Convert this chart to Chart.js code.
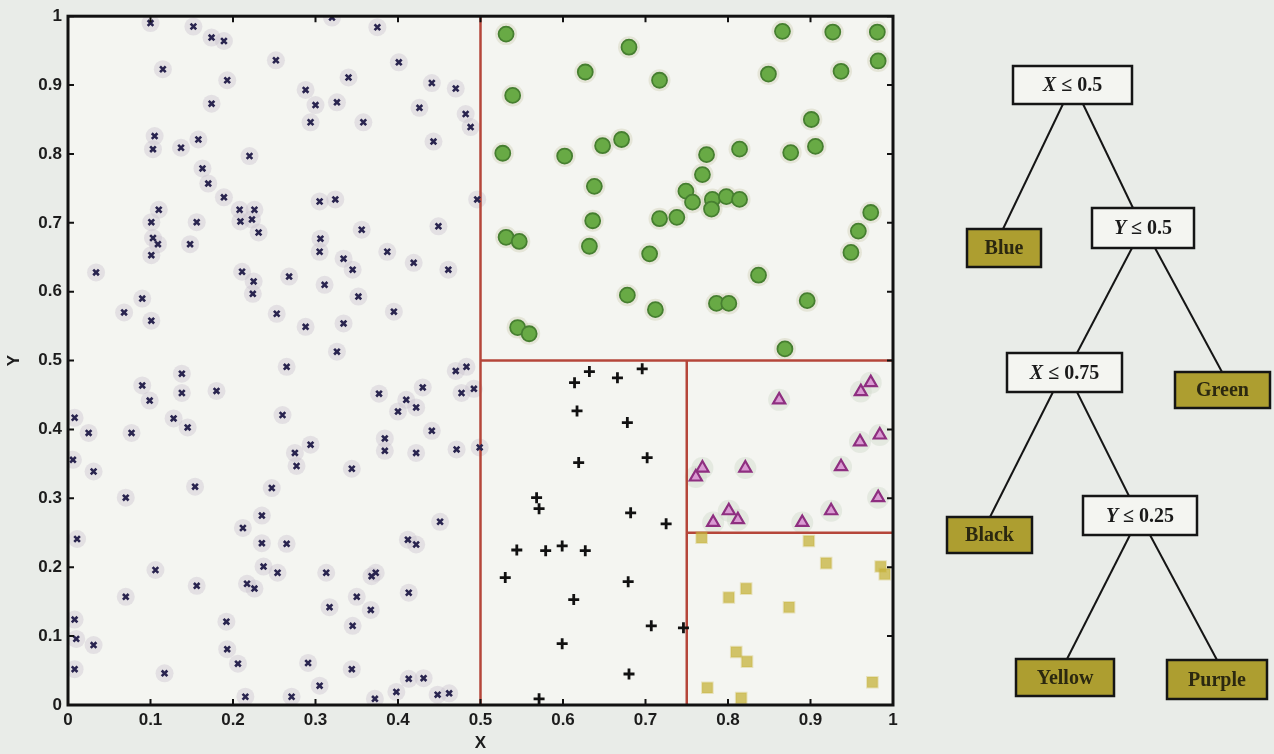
<!DOCTYPE html>
<html>
<head>
<meta charset="utf-8">
<script src="https://cdn.jsdelivr.net/npm/chart.js@4.4.1/dist/chart.umd.min.js"></script>
<style>
  html, body { margin: 0; padding: 0; background: #e9ece8; }
  #wrap { width: 1274px; height: 754px; }
</style>
</head>
<body>
<div id="wrap"><canvas id="tree" width="1274" height="754"></canvas></div>
<script>
// Blue region (X <= 0.5)
const blueX = [0.100,0.152,0.174,0.189,0.252,0.115,0.193,0.174,0.105,0.103,0.137,0.158,0.220,0.163,0.170,0.189,0.110,0.101,0.156,0.208,0.226,0.209,0.223,0.231,0.103,0.148,0.109,
  0.320,0.375,0.401,0.340,0.441,0.470,0.288,0.300,0.326,0.294,0.358,0.426,0.482,0.488,0.443,0.496,0.305,0.324,0.356,0.449,0.306,0.305,
  0.387,0.334,0.345,0.419,0.461,0.268,0.225,0.224,0.311,0.352,0.395,0.253,0.288,0.334,0.326,0.265,0.470,0.483,0.430,0.377,0.410,0.477,0.492,0.400,0.422,0.441,0.260,0.294,0.275,0.277,0.384,0.384,0.422,0.471,0.499,0.344,
  0.101,0.034,0.211,0.090,0.068,0.101,0.138,0.090,0.138,0.180,0.099,0.128,0.145,0.008,0.025,0.077,0.006,0.031,
  0.154,0.070,0.247,0.235,0.212,0.235,0.265,0.011,0.106,0.237,0.254,0.156,0.217,0.226,0.070,0.192,0.008,0.010,0.031,0.193,0.206,0.008,0.117,0.215,0.271,
  0.451,0.412,0.422,0.313,0.368,0.373,0.350,0.413,0.317,0.367,0.345,0.291,0.344,0.413,0.431,0.305,0.398,0.448,0.462,0.372];
const blueY = [0.990,0.985,0.969,0.964,0.936,0.923,0.907,0.873,0.826,0.807,0.809,0.821,0.797,0.779,0.757,0.737,0.719,0.701,0.701,0.719,0.719,0.702,0.705,0.686,0.678,0.669,0.669,
  0.998,0.984,0.933,0.911,0.903,0.895,0.893,0.871,0.875,0.846,0.846,0.867,0.858,0.839,0.818,0.734,0.731,0.734,0.690,0.695,0.677,0.658,
  0.658,0.648,0.632,0.642,0.632,0.622,0.615,0.597,0.610,0.593,0.571,0.568,0.549,0.554,0.513,0.491,0.485,0.491,0.461,0.452,0.443,0.453,0.459,0.426,0.432,0.398,0.421,0.378,0.366,0.347,0.387,0.369,0.366,0.371,0.374,0.343,
  0.653,0.628,0.629,0.590,0.570,0.558,0.481,0.464,0.453,0.456,0.442,0.416,0.403,0.417,0.395,0.395,0.356,0.339,
  0.317,0.301,0.315,0.275,0.257,0.235,0.234,0.241,0.196,0.201,0.192,0.173,0.176,0.169,0.157,0.121,0.124,0.096,0.087,0.081,0.060,0.052,0.046,0.012,0.012,
  0.266,0.240,0.233,0.192,0.187,0.192,0.157,0.163,0.142,0.138,0.115,0.061,0.052,0.038,0.039,0.028,0.019,0.015,0.017,0.009];

// Green region (X > 0.5, Y > 0.5)
const greenX = [0.531,0.680,0.627,0.717,0.539,0.671,0.648,0.527,0.602,0.638,0.636,0.632,0.531,0.547,0.705,0.717,0.738,0.749,0.757,0.678,0.712,0.545,0.559,
  0.866,0.927,0.981,0.849,0.937,0.982,0.901,0.906,0.876,0.814,0.774,0.769,0.781,0.798,0.814,0.780,0.973,0.958,0.949,0.837,0.786,0.801,0.896,0.869];
const greenY = [0.974,0.955,0.919,0.907,0.885,0.821,0.812,0.801,0.797,0.753,0.703,0.666,0.679,0.673,0.655,0.706,0.708,0.746,0.730,0.595,0.574,0.548,0.539,
  0.978,0.977,0.977,0.916,0.920,0.935,0.850,0.811,0.802,0.807,0.799,0.770,0.734,0.738,0.734,0.720,0.715,0.688,0.657,0.624,0.583,0.583,0.587,0.517];

// Black region (0.5 < X <= 0.75, Y <= 0.5)
const blackX = [0.632,0.696,0.614,0.666,0.617,0.678,0.619,0.702,0.568,0.571,0.682,0.725,0.544,0.579,0.599,0.627,0.530,0.679,0.613,0.707,0.746,0.599,0.680,0.571];
const blackY = [0.484,0.488,0.468,0.475,0.427,0.410,0.352,0.359,0.301,0.285,0.279,0.263,0.225,0.224,0.231,0.224,0.185,0.179,0.153,0.115,0.112,0.089,0.045,0.009];

// Purple region (X > 0.75, 0.25 < Y <= 0.5)
const purpleX = [0.862,0.961,0.973,0.960,0.984,0.937,0.769,0.761,0.821,0.982,0.925,0.801,0.812,0.782,0.890];
const purpleY = [0.443,0.455,0.468,0.382,0.392,0.346,0.344,0.331,0.344,0.301,0.282,0.282,0.269,0.265,0.265];

// Yellow region (X > 0.75, Y <= 0.25)
const yellowX = [0.768,0.898,0.919,0.985,0.990,0.822,0.801,0.874,0.810,0.823,0.975,0.775,0.816];
const yellowY = [0.243,0.238,0.206,0.201,0.190,0.169,0.156,0.142,0.077,0.063,0.033,0.025,0.010];

// decision boundaries: each segment as [x0, x1] / [y0, y1]
const splitXs = [[0.5, 0.5], [0.5, 1], [0.75, 0.75], [0.75, 1]];
const splitYs = [[0, 1], [0.5, 0.5], [0, 0.5], [0.25, 0.25]];

const axisTicks = [0, 0.1, 0.2, 0.3, 0.4, 0.5, 0.6, 0.7, 0.8, 0.9, 1];

function pts(xs, ys) {
  return xs.map((x, i) => ({ x: x, y: ys[i] }));
}

const datasets = [];
splitXs.forEach((sx, i) => {
  datasets.push({
    type: 'line', data: pts(sx, splitYs[i]),
    borderColor: '#b5463a', borderWidth: 2.5, pointRadius: 0, fill: false, order: 5
  });
});
datasets.push({ data: pts(blueX, blueY), pointStyle: 'crossRot', pointRadius: 4, borderColor: '#29244f', borderWidth: 2.6, order: 1 });
datasets.push({ data: pts(greenX, greenY), pointStyle: 'circle', pointRadius: 7.5, backgroundColor: '#68aa45', borderColor: '#467f30', borderWidth: 1.8, order: 1 });
datasets.push({ data: pts(blackX, blackY), pointStyle: 'cross', pointRadius: 5.5, borderColor: '#111', borderWidth: 2.8, order: 1 });
datasets.push({ data: pts(purpleX, purpleY), pointStyle: 'triangle', pointRadius: 7, backgroundColor: '#d99ad2', borderColor: '#8e2f80', borderWidth: 2.2, order: 1 });
datasets.push({ data: pts(yellowX, yellowY), pointStyle: 'rect', pointRadius: 7.5, backgroundColor: 'rgba(198,178,58,0.75)', borderColor: 'rgba(198,178,58,0.3)', borderWidth: 2, order: 1 });
// soft halos under the markers
datasets.push({ data: pts(blueX, blueY), pointStyle: 'circle', pointRadius: 9, backgroundColor: 'rgba(195,185,200,0.35)', borderWidth: 0, order: 10 });
datasets.push({ data: pts(greenX, greenY), pointStyle: 'circle', pointRadius: 11, backgroundColor: 'rgba(200,200,170,0.35)', borderWidth: 0, order: 10 });
datasets.push({ data: pts(purpleX, purpleY), pointStyle: 'circle', pointRadius: 11, backgroundColor: 'rgba(205,215,200,0.4)', borderWidth: 0, order: 10 });

// tree diagram on the right
const treeNodes = [
  { v: 'X', t: ' \u2264 0.5',  x0: 1013, y0: 66,  x1: 1132, y1: 104, leaf: false },
  { v: '',  t: 'Blue',        x0: 967,  y0: 229, x1: 1041, y1: 267, leaf: true },
  { v: 'Y', t: ' \u2264 0.5',  x0: 1092, y0: 208, x1: 1194, y1: 248, leaf: false },
  { v: 'X', t: ' \u2264 0.75', x0: 1007, y0: 353, x1: 1122, y1: 392, leaf: false },
  { v: '',  t: 'Green',       x0: 1175, y0: 372, x1: 1270, y1: 408, leaf: true },
  { v: '',  t: 'Black',       x0: 947,  y0: 517, x1: 1032, y1: 553, leaf: true },
  { v: 'Y', t: ' \u2264 0.25', x0: 1083, y0: 496, x1: 1197, y1: 535, leaf: false },
  { v: '',  t: 'Yellow',      x0: 1016, y0: 659, x1: 1114, y1: 696, leaf: true },
  { v: '',  t: 'Purple',      x0: 1167, y0: 660, x1: 1267, y1: 699, leaf: true }
];
const treeEdges = [
  [1063, 104, 1003, 229], [1083, 104, 1133, 208],
  [1132, 248, 1077, 353], [1155, 248, 1222, 372],
  [1053, 392, 990, 517],  [1077, 392, 1129, 496],
  [1130, 535, 1067, 659], [1150, 535, 1217, 660]
];

const framePlugin = {
  id: 'frame',
  beforeDatasetsDraw(chart) {
    const a = chart.chartArea, ctx = chart.ctx;
    ctx.save();
    ctx.fillStyle = '#f4f5f1';
    ctx.fillRect(a.left, a.top, a.right - a.left, a.bottom - a.top);
    ctx.restore();
  },
  afterDatasetsDraw(chart) {
    const a = chart.chartArea, ctx = chart.ctx;
    const xs = chart.scales.x, ys = chart.scales.y;
    ctx.save();
    ctx.strokeStyle = '#111';
    ctx.lineWidth = 2;
    axisTicks.forEach(v => {
      const px = xs.getPixelForValue(v), py = ys.getPixelForValue(v);
      ctx.beginPath();
      ctx.moveTo(px, a.bottom); ctx.lineTo(px, a.bottom - 6);
      ctx.moveTo(px, a.top); ctx.lineTo(px, a.top + 6);
      ctx.moveTo(a.left, py); ctx.lineTo(a.left + 6, py);
      ctx.moveTo(a.right, py); ctx.lineTo(a.right - 6, py);
      ctx.stroke();
    });
    ctx.lineWidth = 3;
    ctx.strokeRect(a.left, a.top, a.right - a.left, a.bottom - a.top);
    ctx.restore();
  },
  afterDraw(chart) {
    const ctx = chart.ctx;
    ctx.save();
    ctx.strokeStyle = '#151515';
    ctx.lineWidth = 2;
    treeEdges.forEach(e => {
      ctx.beginPath(); ctx.moveTo(e[0], e[1]); ctx.lineTo(e[2], e[3]); ctx.stroke();
    });
    treeNodes.forEach(n => {
      ctx.fillStyle = n.leaf ? '#ad9e30' : '#f4f5f1';
      ctx.fillRect(n.x0, n.y0, n.x1 - n.x0, n.y1 - n.y0);
      ctx.lineWidth = 2.5;
      ctx.strokeStyle = '#151515';
      ctx.strokeRect(n.x0, n.y0, n.x1 - n.x0, n.y1 - n.y0);
      const fv = 'italic bold 20px "Liberation Serif", "DejaVu Serif", serif';
      const ft = 'bold 20px "Liberation Serif", "DejaVu Serif", serif';
      ctx.font = fv; const wv = ctx.measureText(n.v).width;
      ctx.font = ft; const wt = ctx.measureText(n.t).width;
      let x = (n.x0 + n.x1) / 2 - (wv + wt) / 2;
      const y = (n.y0 + n.y1) / 2 + 1;
      ctx.textBaseline = 'middle';
      ctx.textAlign = 'left';
      ctx.fillStyle = n.leaf ? '#2b2810' : '#1a1a1a';
      ctx.font = fv; ctx.fillText(n.v, x, y);
      ctx.font = ft; ctx.fillText(n.t, x + wv, y);
    });
    ctx.restore();
  }
};

const tickFont = { family: '"Liberation Sans", Arial, sans-serif', size: 17, weight: 'bold' };
const fmt = v => String(Number(Number(v).toFixed(1)));

new Chart(document.getElementById('tree').getContext('2d'), {
  type: 'scatter',
  data: { datasets: datasets },
  options: {
    responsive: false,
    animation: false,
    layout: { padding: { top: 16, right: 381, left: 4, bottom: 0 } },
    plugins: { legend: { display: false }, tooltip: { enabled: false } },
    scales: {
      x: {
        type: 'linear', min: 0, max: 1,
        afterBuildTicks: s => { s.ticks = axisTicks.map(v => ({ value: v })); },
        ticks: { font: tickFont, color: '#1c1c1c', padding: 5, maxRotation: 0, callback: fmt },
        grid: { display: false, drawTicks: false },
        border: { display: false },
        title: { display: true, text: 'X', font: tickFont, color: '#1c1c1c', padding: { top: 0, bottom: 0 } },
        afterFit: s => { s.height = 49; }
      },
      y: {
        type: 'linear', min: 0, max: 1,
        afterBuildTicks: s => { s.ticks = axisTicks.map(v => ({ value: v })); },
        ticks: { font: tickFont, color: '#1c1c1c', padding: 6, callback: fmt },
        grid: { display: false, drawTicks: false },
        border: { display: false },
        title: { display: true, text: 'Y', font: tickFont, color: '#1c1c1c', padding: { top: 0, bottom: 0 } },
        afterFit: s => { s.width = 64; }
      }
    }
  },
  plugins: [framePlugin]
});
</script>
</body>
</html>
